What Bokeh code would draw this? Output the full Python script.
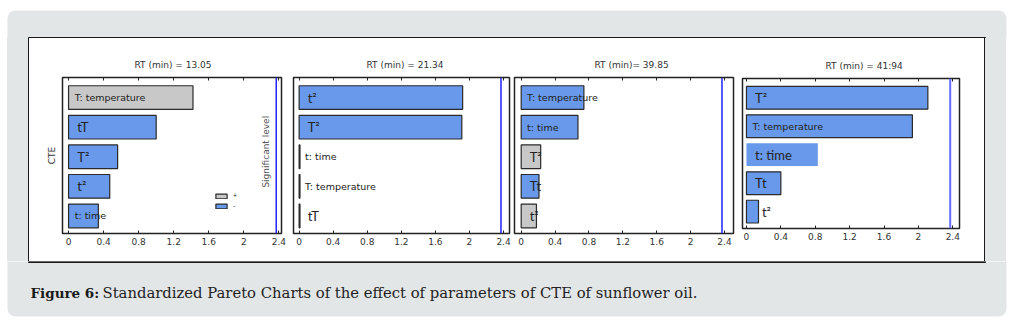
from math import pi
from bokeh.plotting import figure
from bokeh.models import (Range1d, FixedTicker, LinearAxis, Span, Label, Legend,
                          LegendItem, BoxAnnotation, ColumnDataSource, Div, Title)
from bokeh.layouts import row, column
from bokeh.embed import file_html
from bokeh.resources import INLINE

# ---------------- data ----------------
titles = ["RT (min) = 13.05", "RT (min) =  21.34", "RT (min)= 39.85", "RT (min) = 41:94"]

p1_terms = ["T: temperature", "tT", "T²", "t²", "t: time"]
p1_values = [1.42, 1.00, 0.56, 0.47, 0.34]
p1_signs = ["+", "-", "-", "-", "-"]

p2_terms = ["t²", "T²", "t: time", "T: temperature", "tT"]
p2_values = [1.92, 1.91, 0.01, 0.01, 0.01]
p2_signs = ["-", "-", "-", "-", "-"]

p3_terms = ["T: temperature", "t: time", "T²", "Tt", "t²"]
p3_values = [0.74, 0.67, 0.23, 0.21, 0.18]
p3_signs = ["-", "-", "+", "-", "+"]

p4_terms = ["T²", "T: temperature", "t: time", "Tt", "t²"]
p4_values = [2.11, 1.93, 0.83, 0.40, 0.14]
p4_signs = ["-", "-", "-", "-", "-"]

significance = 2.37
x_ticks = [0, 0.4, 0.8, 1.2, 1.6, 2.0, 2.4]
x_tick_labels = ["0", "0.4", "0.8", "1.2", "1.6", "2", "2.4"]
y_label = "CTE"
sig_label = "Significant level"
legend_labels = ["+", "-"]
caption_bold = "Figure 6:"
caption_text = "Standardized Pareto Charts of the effect of parameters of CTE of sunflower oil."

# ---------------- style ----------------
GREY_BG = "#e3e6e7"
BLUE = "#6899ea"
GREY = "#c8c8c8"
EDGE = "#2a2a2a"
TXT = "#333333"
SMALL_FONT = "DejaVu Sans"
BIG_FONT = "Lato"

panel_specs = [
    dict(width=259, bl=33, br=7, bt=39, bb=28, xr=(-0.069, 2.43), toff=72),
    dict(width=224, bl=5, br=3, bt=39, bb=28, xr=(-0.066, 2.47), toff=73),
    dict(width=225, bl=2, br=4, bt=39, bb=28, xr=(-0.079, 2.506), toff=80),
    dict(width=247, bl=5, br=25, bt=40, bb=33, xr=(-0.046, 2.478), toff=83),
]
Y_RANGE = (0.407, 5.678)
label_outside = [
    [False] * 5,
    [False] * 5,
    [False] * 5,
    [False, False, False, False, True],
]
line_colors = [
    [EDGE] * 5, [EDGE] * 5, [EDGE] * 5, [EDGE, EDGE, None, EDGE, EDGE],
]
small_terms = {"T: temperature", "t: time"}
big_override = {(3, "t: time")}

data = [
    (p1_terms, p1_values, p1_signs),
    (p2_terms, p2_values, p2_signs),
    (p3_terms, p3_values, p3_signs),
    (p4_terms, p4_values, p4_signs),
]

overrides = {t: l for t, l in zip(x_ticks, x_tick_labels)}


def deco_fig(w, h, xr, yr):
    f = figure(width=w, height=h, x_range=Range1d(*xr), y_range=Range1d(*yr),
               output_backend="svg", toolbar_location=None,
               x_axis_location=None, y_axis_location=None,
               min_border=0)
    f.grid.visible = False
    f.outline_line_color = None
    f.background_fill_color = "white"
    f.border_fill_color = "white"
    return f


panels = []
for i, ((terms, vals, signs), spec) in enumerate(zip(data, panel_specs)):
    n = len(terms)
    ys = [n - k for k in range(n)]
    p = figure(width=spec["width"], height=223,
               x_range=Range1d(*spec["xr"]), y_range=Range1d(*Y_RANGE),
               output_backend="svg", toolbar_location=None,
               y_axis_location="left" if i == 0 else None,
               min_border_left=spec["bl"], min_border_right=spec["br"],
               min_border_top=spec["bt"], min_border_bottom=spec["bb"])
    p.grid.visible = False
    p.outline_line_color = "#222222"
    p.outline_line_width = 1.5
    p.background_fill_color = "white"
    p.border_fill_color = "white"

    p.title = Title(text=titles[i], align="left", offset=spec["toff"], standoff=16,
                    text_font=SMALL_FONT, text_font_size="9px",
                    text_font_style="normal", text_color=TXT)

    ax = p.xaxis[0]
    ax.ticker = FixedTicker(ticks=x_ticks)
    ax.major_label_overrides = overrides
    ax.axis_line_color = None
    ax.major_tick_in = 3
    ax.major_tick_out = 0
    ax.major_tick_line_color = "#222222"
    ax.minor_tick_line_color = None
    ax.major_label_text_font = SMALL_FONT
    ax.major_label_text_font_size = "9px"
    ax.major_label_text_color = TXT
    ax.major_label_standoff = 4

    top = LinearAxis(ticker=FixedTicker(ticks=x_ticks), axis_line_color=None,
                     major_tick_in=3, major_tick_out=0, minor_tick_line_color=None,
                     major_label_text_color=None, major_label_text_font_size="1px",
                     major_label_standoff=0, major_tick_line_color="#222222")
    p.add_layout(top, "above")

    if i == 0:
        ya = p.yaxis[0]
        ya.ticker = FixedTicker(ticks=[])
        ya.axis_line_color = None
        ya.major_tick_line_color = None
        ya.minor_tick_line_color = None
        ya.axis_label = y_label
        ya.axis_label_text_font = SMALL_FONT
        ya.axis_label_text_font_size = "9px"
        ya.axis_label_text_font_style = "normal"
        ya.axis_label_text_color = TXT
        ya.axis_label_standoff = 6

    fills = [GREY if s == "+" else BLUE for s in signs]
    src = ColumnDataSource(dict(y=ys, right=vals, fill=fills, line=line_colors[i]))
    r = p.hbar(y="y", left=0, right="right", height=0.8, fill_color="fill",
               line_color="line", line_width=1.2, source=src)

    sig_color = "#6b6bff" if i == 3 else "#2222ff"
    p.add_layout(Span(location=significance, dimension="height",
                      line_color=sig_color, line_width=2 if i == 3 else 1.5))

    for k, (t, v) in enumerate(zip(terms, vals)):
        small = t in small_terms and (i, t) not in big_override
        if label_outside[i][k]:
            x = v + 0.04
        else:
            x = 0.07 if small else 0.1
        fs = "9.5px" if small else "13px"
        p.add_layout(Label(x=x, y=ys[k], text=t, text_align="left",
                           text_baseline="middle",
                           text_font=SMALL_FONT if small else BIG_FONT,
                           text_font_size=fs, text_color="#222222"))

    if i == 0:
        p.add_layout(Label(x=2.25, y=3.17, text=sig_label, angle=pi / 2,
                           text_align="center", text_baseline="middle",
                           text_font=SMALL_FONT, text_font_size="9px",
                           text_color="#555555"))
        plus_idx = signs.index("+")
        minus_idx = signs.index("-")
        leg = Legend(items=[LegendItem(label=legend_labels[0], renderers=[r], index=plus_idx),
                            LegendItem(label=legend_labels[1], renderers=[r], index=minus_idx)],
                     location=(152, 24), orientation="vertical",
                     border_line_color=None, background_fill_alpha=0,
                     padding=0, margin=0, spacing=3, label_standoff=5,
                     glyph_width=14, glyph_height=6, label_height=6,
                     label_text_font_size="7px", label_text_color=TXT)
        p.add_layout(leg)
    panels.append(p)

# ---------------- decorations ----------------
topf = deco_fig(1013, 38, (0, 1013), (38, 0))
topf.add_layout(BoxAnnotation(left=7, right=1006, top=10, bottom=200,
                              fill_color=GREY_BG, fill_alpha=1, line_color=None,
                              border_radius=8, level="underlay"))
topf.quad(left=28, right=985, top=37, bottom=38, color="#1a1a1a")

strip_css_left = ("linear-gradient(to right, #ffffff 0px, #ffffff 7px, %s 7px, %s 28px, "
                  "#1a1a1a 28px, #1a1a1a 29px)" % (GREY_BG, GREY_BG))
strip_css_right = ("linear-gradient(to right, #1a1a1a 0px, #1a1a1a 1px, %s 1px, %s 22px, "
                   "#ffffff 22px, #ffffff 29px)" % (GREY_BG, GREY_BG))
leftd = Div(text="", width=29, height=223, margin=0,
            styles={"background": strip_css_left})
rightd = Div(text="", width=29, height=223, margin=0,
             styles={"background": strip_css_right})

botf = deco_fig(1013, 62, (0, 1013), (323, 261))
botf.add_layout(BoxAnnotation(left=7, right=1006, top=150, bottom=316,
                              fill_color=GREY_BG, fill_alpha=1, line_color=None,
                              border_radius=8, level="underlay"))
botf.quad(left=28, right=985, top=261, bottom=262, color="#1a1a1a")
botf.add_layout(Label(x=30, y=292, text=caption_bold, text_baseline="alphabetic",
                      text_font="DejaVu Serif", text_font_size="13.5px",
                      text_font_style="bold", text_color="#1a1a1a"))
botf.add_layout(Label(x=102, y=292, text=caption_text, text_baseline="alphabetic",
                      text_font="DejaVu Serif", text_font_size="14.8px",
                      text_color="#222222"))

layout = column(topf, row(leftd, panels[0], panels[1], panels[2], column(panels[3]), rightd),
                botf)
open("out.html", "w").write(file_html(layout, INLINE))
